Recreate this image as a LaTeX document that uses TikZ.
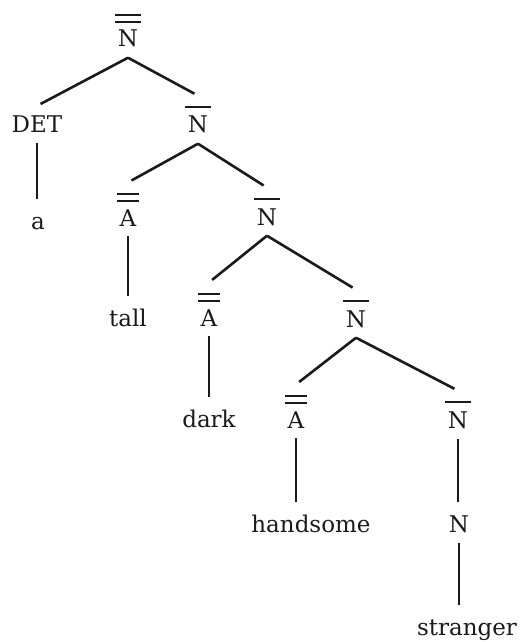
\documentclass[tikz,border=0pt]{standalone}
\usepackage{fontspec}
\setmainfont{DejaVu Serif}
\usetikzlibrary{positioning}
\definecolor{ink}{HTML}{1A1A1A}
% bars over a category label
\newcommand\barone[1]{\setbox0\hbox{#1}\dimen0=\dimexpr\wd0+2.5pt\relax
  \vbox{\hrule height 1.1pt width \dimen0 \kern4pt \hbox to \dimen0{\hss\box0\hss}}}
\newcommand\bartwo[1]{\setbox0\hbox{#1}\dimen0=\dimexpr\wd0+2.5pt\relax
  \vbox{\hrule height 1.1pt width \dimen0 \kern2.5pt \hrule height 1.1pt width \dimen0
    \kern3.5pt \hbox to \dimen0{\hss\box0\hss}}}
\tikzset{
  lab/.style={anchor=base, inner sep=5pt, text=ink, font=\fontsize{11.5}{13}\selectfont},
  leaf/.style={lab, text height=8pt},
  branch/.style={draw=ink, line width=1.3pt, shorten >=2pt}
}

\begin{document}
\begin{tikzpicture}[x=0.5pt, y=-0.5pt]
  \useasboundingbox (0,0) rectangle (522,642);
  \node[lab](n0) at (128,47){\bartwo{N}};
  \node[lab](det) at (37,133){DET};
  \node[leaf](a) at (38,229){a};
  \node[lab](n1) at (198,133){\barone{N}};
  \node[lab](a1) at (128,226){\bartwo{A}};
  \node[leaf](tall) at (128,326){tall};
  \node[lab](n2) at (267,225){\barone{N}};
  \node[lab](a2) at (209,326){\bartwo{A}};
  \node[leaf](dark) at (209,427){dark};
  \node[lab](n3) at (356,327){\barone{N}};
  \node[lab](a3) at (296,428){\bartwo{A}};
  \node[leaf](hand) at (311,532){handsome};
  \node[lab](n4) at (458,428){\barone{N}};
  \node[leaf](n5) at (459,532){N};
  \node[leaf](str) at (467,635){stranger};
  \draw[branch](n0.south)--(det.north);
  \draw[branch](n0.south)--(n1.north);
  \draw[branch](det.south)--(det.south |- a.north);
  \draw[branch](n1.south)--(a1.north);
  \draw[branch](n1.south)--(n2.north);
  \draw[branch](a1.south)--(tall.north);
  \draw[branch](n2.south)--(a2.north);
  \draw[branch](n2.south)--(n3.north);
  \draw[branch](a2.south)--(dark.north);
  \draw[branch](n3.south)--(a3.north);
  \draw[branch](n3.south)--(n4.north);
  \draw[branch](a3.south)--(a3.south |- hand.north);
  \draw[branch](n4.south)--(n4.south |- n5.north);
  \draw[branch](n5.south)--(n5.south |- str.north);
\end{tikzpicture}
\end{document}
